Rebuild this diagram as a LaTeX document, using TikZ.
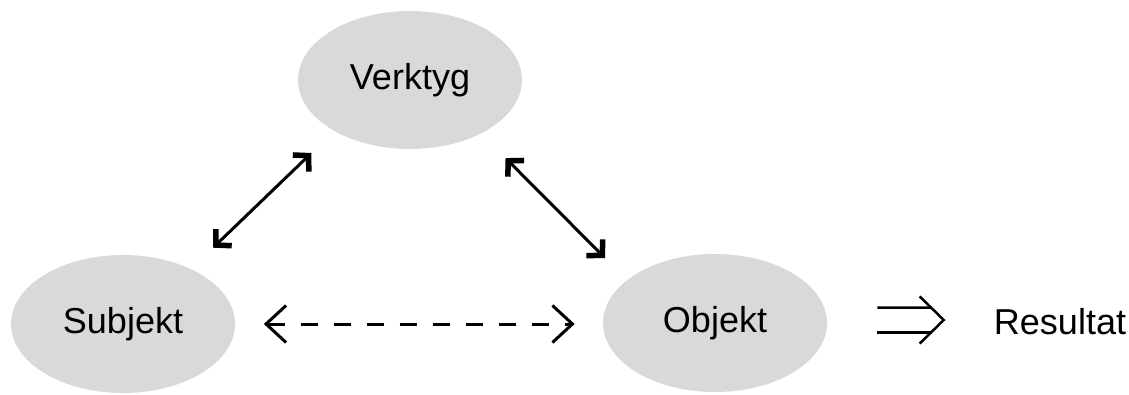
\documentclass[tikz,border=0pt]{standalone}
\usepackage{fontspec}
\setmainfont{Liberation Sans}
\usepackage{tikz}
\usetikzlibrary{positioning}
\usetikzlibrary{arrows.meta}
\usetikzlibrary{shapes.geometric}

\definecolor{bubblegray}{HTML}{D9D9D9}

\tikzset{
  bubble/.style={ellipse, fill=bubblegray, minimum width=4.48cm, minimum height=2.76cm, inner sep=0pt, font=\fontsize{20.5}{24}\selectfont},
  biarrow/.style={line width=0.06cm, {Straight Barb[length=0.22cm,width=0.46cm,line width=0.11cm]}-{Straight Barb[length=0.22cm,width=0.46cm,line width=0.11cm]}, line join=miter},
  dasharrow/.style={line width=0.06cm, dash pattern=on 0.34cm off 0.32cm, {Straight Barb[length=0.4cm,width=0.74cm]}-{Straight Barb[length=0.4cm,width=0.74cm]}}
}

\begin{document}
\begin{tikzpicture}
	 \useasboundingbox (0,0) rectangle (22.58,7.88);

	 % The three nodes of the triangle
	 \node[bubble] (verk) at (8.2,6.28) {Verktyg};
	 \node[bubble] (subj) at (2.46,1.40) {Subjekt};
	 \node[bubble] (obj) at (14.3,1.42) {Objekt};
	 \node[font=\fontsize{20.5}{24}\selectfont] (res) at (21.2,1.44) {Resultat};

	 % Solid edges of the triangle
	 \draw[biarrow, shorten <=0.61cm, shorten >=0.63cm] (subj.39) to[] (verk.214);
	 \draw[biarrow, shorten <=0.69cm, shorten >=0.62cm] (verk.-37) to[] (obj.154);

	 % Dashed base
	 \draw[dasharrow, shorten <=0.57cm, shorten >=0.56cm] (subj.east) to[] (subj.east -| obj.west);

	 % Implication arrow towards the result
	 \coordinate (tip) at ([xshift=-0.88cm,yshift=0.04cm]res.west);
	 \draw[line width=0.05cm] ([xshift=1cm,yshift=0.31cm]obj.east) to[] ([xshift=-0.24cm,yshift=0.25cm]tip);
	 \draw[line width=0.05cm] ([xshift=1cm,yshift=-0.19cm]obj.east) to[] ([xshift=-0.24cm,yshift=-0.25cm]tip);
	 \draw[line width=0.05cm, line join=miter] ([xshift=-0.48cm,yshift=0.47cm]tip) -- (tip) -- ([xshift=-0.48cm,yshift=-0.47cm]tip);
	 
\end{tikzpicture}
\end{document}
